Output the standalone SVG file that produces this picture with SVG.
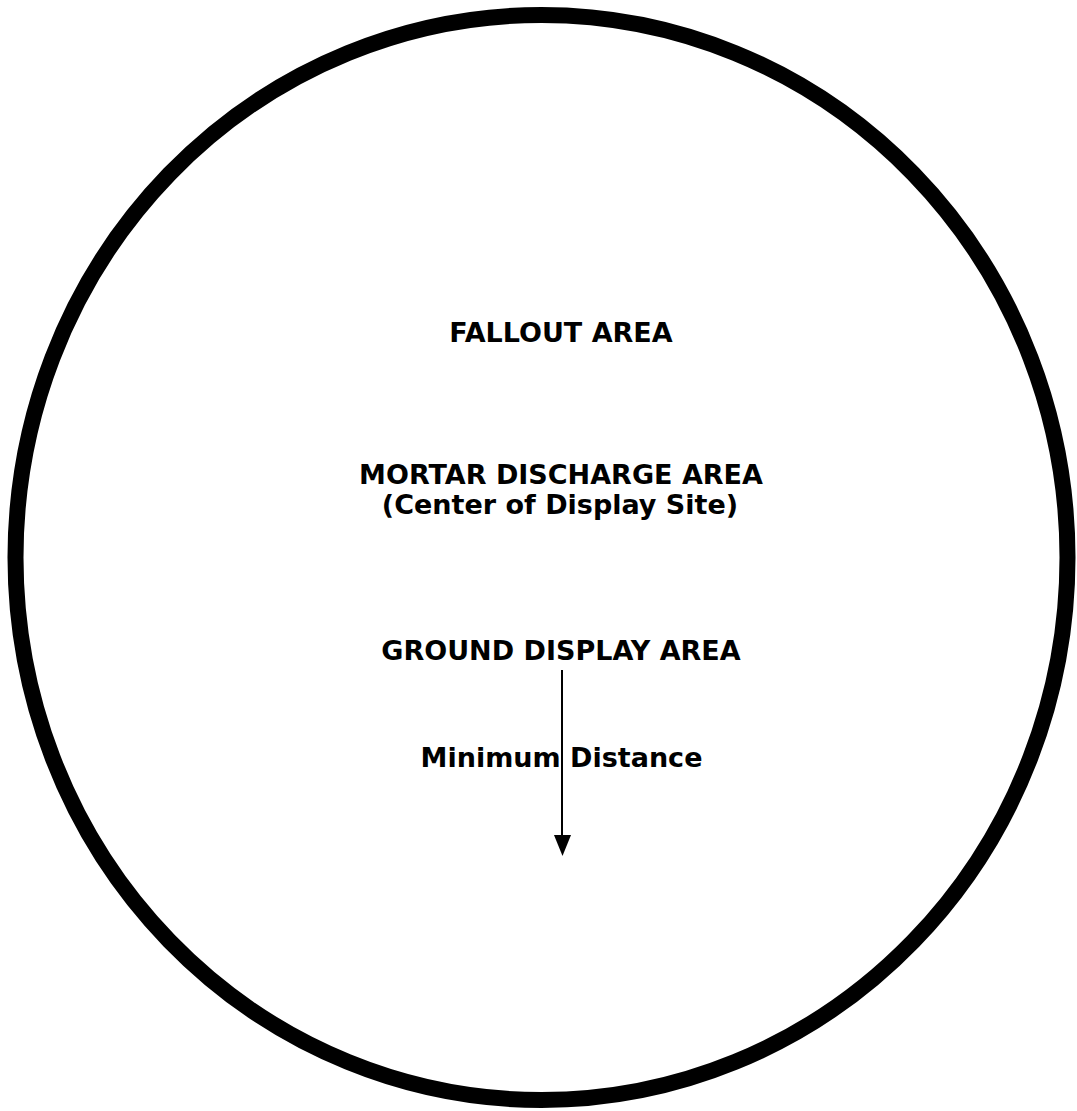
<svg xmlns="http://www.w3.org/2000/svg" width="1077" height="1111" viewBox="0 0 1077 1111">
<style>
.lbl{font-family:"DejaVu Sans",Verdana,sans-serif;font-weight:bold;font-size:27px;fill:#000;text-anchor:middle}
.conn{stroke:#000;stroke-width:2;fill:none}
</style>
<rect width="1077" height="1111" fill="#fff"/>
<g id="boundary">
<ellipse cx="541.5" cy="557.5" rx="526" ry="542.5" fill="none" stroke="#000" stroke-width="16"/>
</g>
<g id="fallout"><text class="lbl" x="561" y="342">FALLOUT AREA</text></g>
<g id="mortar"><text class="lbl" x="561" y="484">MORTAR DISCHARGE AREA</text><text class="lbl" x="560" y="514">(Center of Display Site)</text></g>
<g id="ground"><text class="lbl" x="561" y="660">GROUND DISPLAY AREA</text></g>
<g id="distance"><text class="lbl" x="561.5" y="767">Minimum Distance</text></g>
<g id="connectors">
<line class="conn" x1="562" y1="670" x2="562" y2="836"/>
<polygon points="554,835 571,835 562.5,856" fill="#000"/>
</g>
</svg>
